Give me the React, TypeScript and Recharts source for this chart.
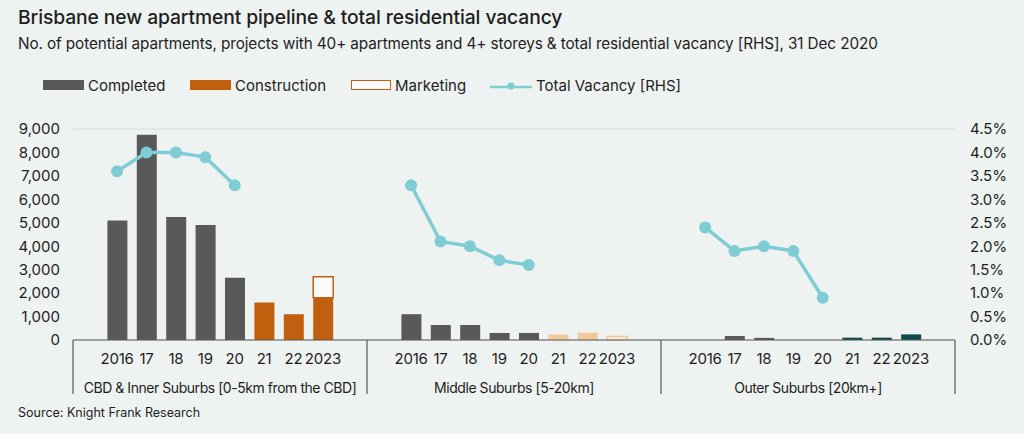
import React from "react";
import { ComposedChart, Bar, Line, XAxis, YAxis, CartesianGrid, Cell } from "recharts";

const years = ["2016", "17", "18", "19", "20", "21", "22", "2023"];
const regions = [
  "CBD & Inner Suburbs [0-5km from the CBD]",
  "Middle Suburbs [5-20km]",
  "Outer Suburbs [20km+]",
];

// CBD & Inner
const completedInner = [5100, 8750, 5250, 4900, 2650, 0, 0, 0];
const constructionInner = [0, 0, 0, 0, 0, 1600, 1100, 1800];
const marketingInner = [0, 0, 0, 0, 0, 0, 0, 900];
const vacancyInner = [3.6, 4.0, 4.0, 3.9, 3.3, null, null, null];

// Middle
const completedMiddle = [1100, 640, 640, 300, 300, 0, 0, 0];
const constructionMiddle = [0, 0, 0, 0, 0, 230, 310, 0];
const marketingMiddle = [0, 0, 0, 0, 0, 0, 0, 150];
const vacancyMiddle = [3.3, 2.1, 2.0, 1.7, 1.6, null, null, null];

// Outer
const completedOuter = [0, 170, 90, 0, 0, 0, 0, 0];
const constructionOuter = [0, 0, 0, 0, 0, 100, 100, 240];
const marketingOuter = [0, 0, 0, 0, 0, 0, 0, 0];
const vacancyOuter = [2.4, 1.9, 2.0, 1.9, 0.9, null, null, null];

const leftTicks = [0, 1000, 2000, 3000, 4000, 5000, 6000, 7000, 8000, 9000];
const rightTicks = [0, 0.5, 1, 1.5, 2, 2.5, 3, 3.5, 4, 4.5];

const groupSeries = [
  [completedInner, constructionInner, marketingInner, vacancyInner],
  [completedMiddle, constructionMiddle, marketingMiddle, vacancyMiddle],
  [completedOuter, constructionOuter, marketingOuter, vacancyOuter],
];

// each region gets a blank slot either side of its 8 years
const rows: any[] = [];
groupSeries.forEach(([comp, cons, mkt, vac], g) => {
  rows.push({ slot: `${g}-a`, group: g, year: "", completed: 0, construction: 0, marketing: 0, vacancy: null });
  years.forEach((y, i) => {
    rows.push({
      slot: `${g}-${i}`,
      group: g,
      year: y,
      completed: comp[i],
      construction: cons[i],
      marketing: mkt[i],
      vacancy: vac[i],
    });
  });
  rows.push({ slot: `${g}-b`, group: g, year: "", completed: 0, construction: 0, marketing: 0, vacancy: null });
});

const constructionColors = ["#c0600f", "#f1c99b", "#0e4a4b"];
const marketingStroke = ["#c0600f", "#f0c89a", "#0e4a4b"];
const marketingFill = ["#fafafa", "#f5eee7", "#fafafa"];

const TEXT = "#1e1e1e";
const LEFT_W = 73;
const RIGHT_W = 69;
const BAND = (1024 - LEFT_W - RIGHT_W) / rows.length;

function CategoryTick(props: any) {
  const { x, y, index } = props;
  const row = rows[index];
  const pos = index % 10;
  return (
    <g>
      {row.year && (
        <text x={x} y={y + 24} textAnchor="middle" fontSize={15} fill={TEXT} letterSpacing={-0.2}>
          {row.year}
        </text>
      )}
      {pos === 0 && <line x1={x - BAND / 2} x2={x - BAND / 2} y1={y} y2={y + 54} stroke="#555" strokeWidth={1.2} />}
      {index === rows.length - 1 && (
        <line x1={x + BAND / 2} x2={x + BAND / 2} y1={y} y2={y + 54} stroke="#555" strokeWidth={1.2} />
      )}
      {pos === 5 && (
        <text x={x - BAND / 2} y={y + 53} textAnchor="middle" fontSize={14} letterSpacing={-0.45} fill={TEXT}>
          {regions[row.group]}
        </text>
      )}
    </g>
  );
}

const legendItems = [
  { label: "Completed", kind: "box", fill: "#595959", stroke: "none", x: 43 },
  { label: "Construction", kind: "box", fill: "#c0600f", stroke: "none", x: 190 },
  { label: "Marketing", kind: "box", fill: "#fafafa", stroke: "#c0600f", x: 351 },
  { label: "Total Vacancy [RHS]", kind: "line", fill: "#7fcdd4", stroke: "#7fcdd4", x: 490 },
];

export default function App() {
  return (
    <div
      style={{
        position: "absolute",
        left: 0,
        top: 0,
        width: 1024,
        height: 434,
        background: "#eef2f1",
        fontFamily: "Inter, 'Noto Sans', sans-serif",
        color: TEXT,
        overflow: "hidden",
      }}
    >
      <div style={{ position: "absolute", left: 18, top: 5, fontSize: 19.3, fontWeight: 500, letterSpacing: -0.1 }}>
        Brisbane new apartment pipeline &amp; total residential vacancy
      </div>
      <div style={{ position: "absolute", left: 18, top: 34, fontSize: 15.3, letterSpacing: -0.1 }}>
        No. of potential apartments, projects with 40+ apartments and 4+ storeys &amp; total residential vacancy [RHS], 31 Dec 2020
      </div>
      {legendItems.map((it) => (
        <div
          key={it.label}
          style={{ position: "absolute", left: it.x, top: 75, height: 20, display: "flex", alignItems: "center", fontSize: 15 }}
        >
          {it.kind === "box" ? (
            <span
              style={{
                display: "inline-block",
                width: it.stroke === "none" ? 41 : 38,
                height: it.stroke === "none" ? 10 : 8,
                background: it.fill,
                border: it.stroke === "none" ? "none" : `1.5px solid ${it.stroke}`,
                marginRight: 4,
              }}
            />
          ) : (
            <svg width={42} height={12} style={{ marginRight: 4 }}>
              <line x1={0} x2={42} y1={8} y2={8} stroke={it.stroke} strokeWidth={2.5} />
              <circle cx={21} cy={7} r={3.5} fill={it.fill} />
            </svg>
          )}
          <span>{it.label}</span>
        </div>
      ))}
      <div style={{ position: "absolute", left: 18, top: 405, fontSize: 12.5 }}>Source: Knight Frank Research</div>

      <div style={{ position: "absolute", left: 0, top: 0 }}>
        <ComposedChart
          width={1024}
          height={434}
          data={rows}
          margin={{ top: 129, right: 0, bottom: 0, left: 0 }}
          barSize={20}
        >
          <CartesianGrid vertical={false} stroke="#d6dad9" strokeWidth={1} />
          <XAxis
            dataKey="slot"
            interval={0}
            height={94}
            tickLine={false}
            tickSize={0}
            tickMargin={0}
            axisLine={{ stroke: "#5a5a5a", strokeWidth: 1.2 }}
            tick={<CategoryTick />}
          />
          <YAxis
            yAxisId="left"
            width={LEFT_W}
            domain={[0, 9000]}
            ticks={leftTicks}
            axisLine={false}
            tickLine={false}
            tickSize={0}
            tickMargin={13}
            tick={{ fontSize: 15, fill: TEXT }}
            tickFormatter={(v: number) => v.toLocaleString("en-US")}
          />
          <YAxis
            yAxisId="right"
            orientation="right"
            width={RIGHT_W}
            domain={[0, 4.5]}
            ticks={rightTicks}
            axisLine={false}
            tickLine={false}
            tickSize={0}
            tickMargin={15}
            tick={{ fontSize: 15, fill: TEXT }}
            tickFormatter={(v: number) => `${v.toFixed(1)}%`}
          />
          <Bar yAxisId="left" dataKey="completed" stackId="a" fill="#595959" isAnimationActive={false} />
          <Bar yAxisId="left" dataKey="construction" stackId="a" isAnimationActive={false}>
            {rows.map((r) => (
              <Cell key={r.slot} fill={constructionColors[r.group]} />
            ))}
          </Bar>
          <Bar yAxisId="left" dataKey="marketing" stackId="a" strokeWidth={1.5} isAnimationActive={false}>
            {rows.map((r) => (
              <Cell key={r.slot} fill={marketingFill[r.group]} stroke={marketingStroke[r.group]} />
            ))}
          </Bar>
          <Line
            yAxisId="right"
            dataKey="vacancy"
            stroke="#7fcdd4"
            strokeWidth={3.5}
            dot={{ r: 6, fill: "#7fcdd4", stroke: "none" }}
            activeDot={false}
            connectNulls={false}
            isAnimationActive={false}
          />
        </ComposedChart>
      </div>
    </div>
  );
}
